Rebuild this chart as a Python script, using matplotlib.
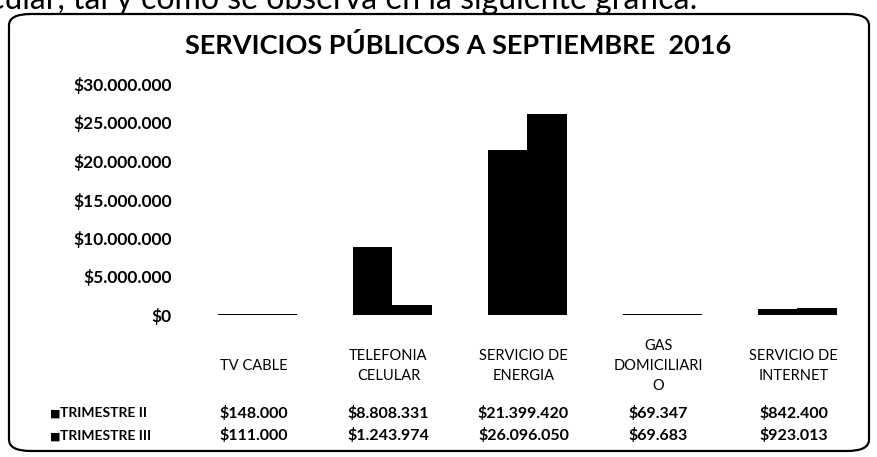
import matplotlib
matplotlib.use("Agg")
import matplotlib.pyplot as plt
from matplotlib.patches import FancyBboxPatch
import matplotlib.transforms as mtransforms
import numpy as np

categories = ["TV CABLE", "TELEFONIA\nCELULAR", "SERVICIO DE\nENERGIA", "GAS\nDOMICILIARI\nO", "SERVICIO DE\nINTERNET"]
series_names = ["TRIMESTRE II", "TRIMESTRE III"]
trimestre_ii = [148000, 8808331, 21399420, 69347, 842400]
trimestre_iii = [111000, 1243974, 26096050, 69683, 923013]
yticks = [0, 5000000, 10000000, 15000000, 20000000, 25000000, 30000000]

def fmt(v):
    return "$" + f"{v:,}".replace(",", ".")

plt.rcParams['font.family'] = ['Lato', 'DejaVu Sans']
W, H = 878, 457
fig = plt.figure(figsize=(W / 100, H / 100), dpi=100)

# border
box = FancyBboxPatch((9 / W, 6 / H), 860 / W, 437 / H,
                     boxstyle="round,pad=0,rounding_size=0.025",
                     transform=fig.transFigure, fill=False, ec="black", lw=1.6)
fig.patches.append(box)

# clipped caption text at top
fig.text(-0.012, 1.0, "cular, tal y como se observa en la siguiente gráfica:",
         fontsize=23, ha="left", va="center", color="black")

fig.text(458 / W, 1 - 45 / H, "SERVICIOS PÚBLICOS A SEPTIEMBRE  2016",
         fontsize=19.5, fontweight="bold", ha="center", va="center")

ax = fig.add_axes([190 / W, 1 - 315 / H, 675 / W, 231 / H])
x = np.arange(len(categories))
bw = 0.29
ax.bar(x - bw / 2, trimestre_ii, bw, color="black")
ax.bar(x + bw / 2, trimestre_iii, bw, color="black")
ax.set_xlim(-0.5, len(categories) - 0.5)
ax.set_ylim(0, 30000000)
ax.set_yticks(yticks)
ax.set_yticklabels([fmt(v) for v in yticks], fontsize=12.5, fontweight="bold")
ax.tick_params(axis="y", length=0, pad=13)
ax.set_xticks([])
for s in ax.spines.values():
    s.set_visible(False)

trans = mtransforms.blended_transform_factory(ax.transData, fig.transFigure)
for i, c in enumerate(categories):
    ax.text(i - 0.03, 1 - 366 / H, c, transform=trans, ha="center", va="center",
            fontsize=10.5, linespacing=1.55)
row_y = [1 - 413 / H, 1 - 436 / H]
for r, (name, vals) in enumerate(zip(series_names, [trimestre_ii, trimestre_iii])):
    fig.text(50 / W, row_y[r], "■", fontsize=8, ha="left", va="center")
    fig.text(60 / W, row_y[r], name, fontsize=10, ha="left", va="center", fontweight="bold")
    for i, v in enumerate(vals):
        ax.text(i - 0.03, row_y[r], fmt(v), transform=trans, ha="center", va="center",
                fontsize=11.5, fontweight="bold")

fig.savefig("out.png", dpi=100)
